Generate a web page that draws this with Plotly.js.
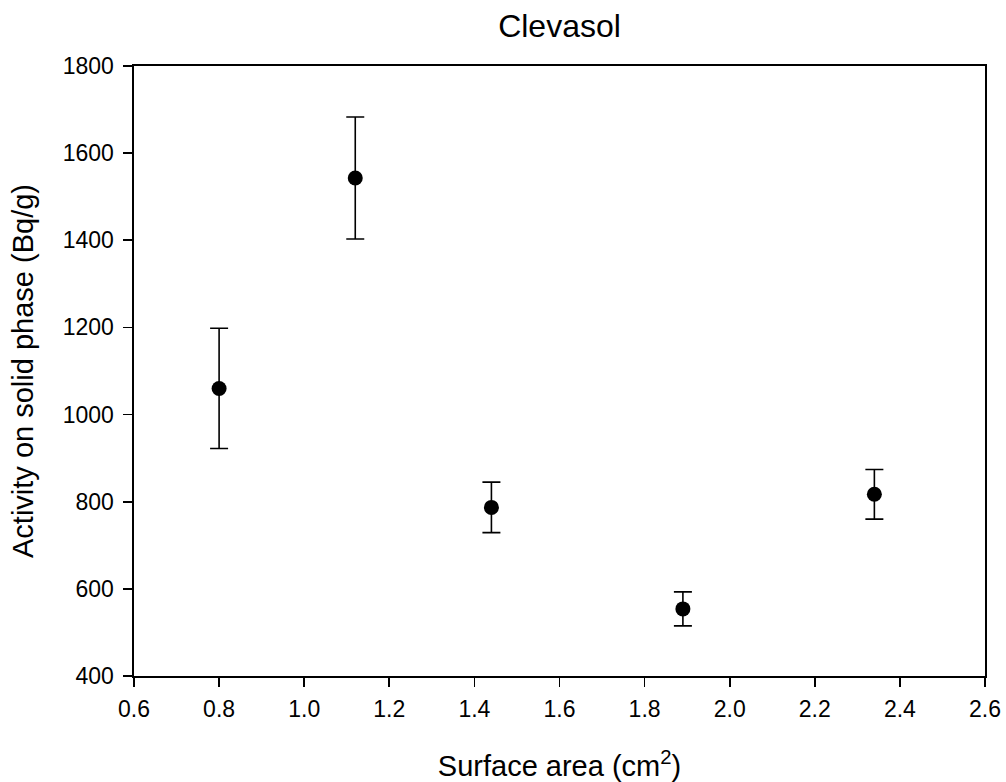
<!DOCTYPE html>
<html><head><meta charset="utf-8">
<script src="https://cdn.plot.ly/plotly-3.0.1.min.js"></script>
<style>body{margin:0;background:#fff}#chart{width:1006px;height:782px}</style>
</head><body><div id="chart"></div>
<script>
const surfaceArea = [0.8, 1.12, 1.44, 1.89, 2.34];
const activity = [1060, 1543, 787, 554, 817];
const activityErr = [138, 140, 58, 39, 57];
const xTicks = [0.6, 0.8, 1.0, 1.2, 1.4, 1.6, 1.8, 2.0, 2.2, 2.4, 2.6];
const yTicks = [400, 600, 800, 1000, 1200, 1400, 1600, 1800];

const fam = 'Liberation Sans, Arial, sans-serif';
Plotly.newPlot('chart', [{
  x: surfaceArea, y: activity, type: 'scatter', mode: 'markers',
  marker: {color: '#000', size: 15},
  error_y: {type: 'data', array: activityErr, visible: true, color: '#000', thickness: 1.6, width: 9}
}], {
  width: 1006, height: 782,
  margin: {l: 134, r: 21, t: 66, b: 106},
  paper_bgcolor: '#fff', plot_bgcolor: '#fff',
  showlegend: false,
  font: {family: fam, size: 23, color: '#000'},
  title: {text: 'Clevasol', font: {family: fam, size: 32, color: '#000'}, x: 0.5, xref: 'paper', xanchor: 'center', y: 0.981, yref: 'container', yanchor: 'top'},
  xaxis: {
    range: [0.6, 2.6], tickvals: xTicks, ticktext: xTicks.map(v => v.toFixed(1)),
    showgrid: false, zeroline: false, showline: true, linecolor: '#000', linewidth: 1.6, mirror: true,
    ticks: 'outside', ticklen: 9, tickwidth: 1.6, tickcolor: '#000', ticklabelstandoff: 3,
    tickfont: {family: fam, size: 23, color: '#000'},
    title: {text: 'Surface area (cm<sup>2</sup>)', font: {family: fam, size: 29, color: '#000'}, standoff: 36}
  },
  yaxis: {
    range: [400, 1800], tickvals: yTicks, ticktext: yTicks.map(String),
    showgrid: false, zeroline: false, showline: true, linecolor: '#000', linewidth: 1.6, mirror: true,
    ticks: 'outside', ticklen: 9, tickwidth: 1.6, tickcolor: '#000', ticklabelstandoff: 5,
    tickfont: {family: fam, size: 23, color: '#000'},
    title: {text: 'Activity on solid phase (Bq/g)', font: {family: fam, size: 29, color: '#000'}, standoff: 20}
  }
}, {displayModeBar: false, staticPlot: true});
</script></body></html>
